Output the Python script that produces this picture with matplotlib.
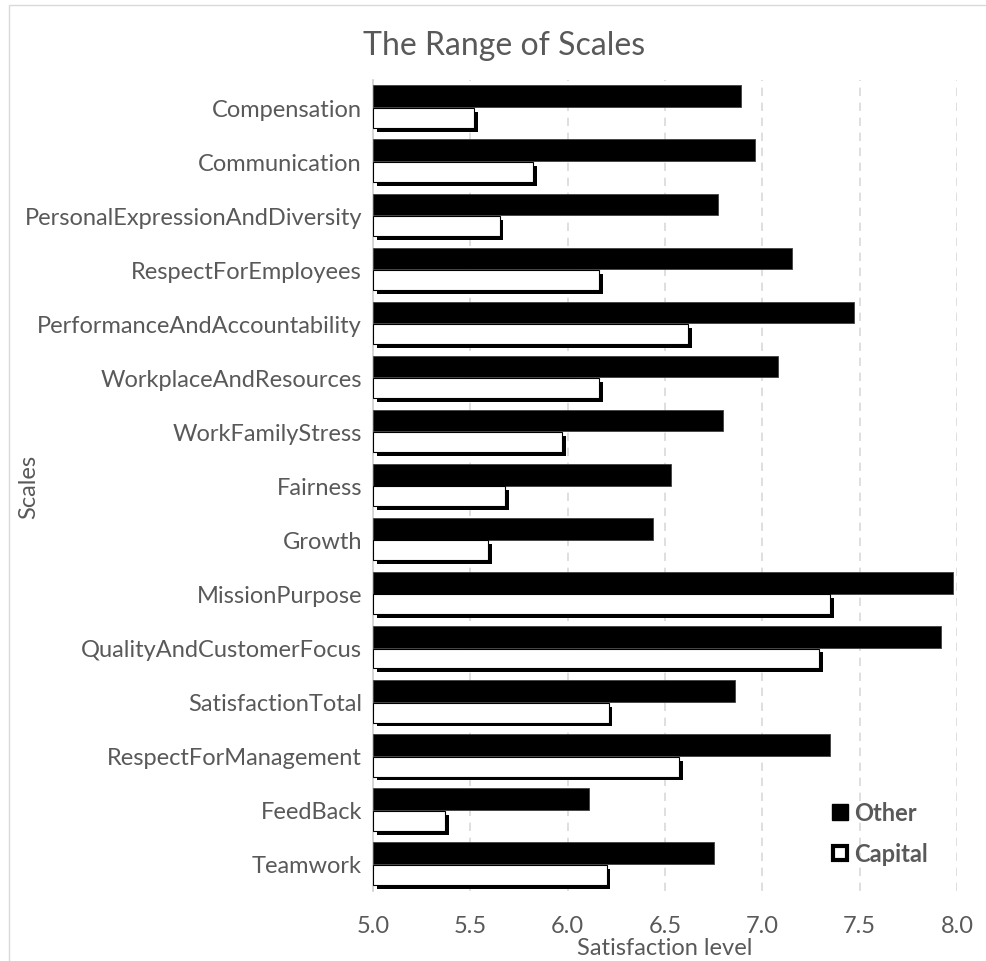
import numpy as np
import matplotlib
matplotlib.use("Agg")
import matplotlib.pyplot as plt
import matplotlib.patheffects as pe
from matplotlib.lines import Line2D
from matplotlib.patches import Rectangle

plt.rcParams['font.family'] = ['Lato', 'DejaVu Sans']

scales = ['Compensation', 'Communication', 'PersonalExpressionAndDiversity',
          'RespectForEmployees', 'PerformanceAndAccountability',
          'WorkplaceAndResources', 'WorkFamilyStress', 'Fairness', 'Growth',
          'MissionPurpose', 'QualityAndCustomerFocus', 'SatisfactionTotal',
          'RespectForManagement', 'FeedBack', 'Teamwork']
other = [6.89, 6.96, 6.77, 7.15, 7.47, 7.08, 6.80, 6.53, 6.44,
         7.98, 7.92, 6.86, 7.35, 6.11, 6.75]
capital = [5.52, 5.82, 5.65, 6.16, 6.62, 6.16, 5.97, 5.68, 5.59,
           7.35, 7.29, 6.21, 6.57, 5.37, 6.20]
xticks = [5.0, 5.5, 6.0, 6.5, 7.0, 7.5, 8.0]

grey = '#595959'
base = 5.0
h = 0.4

fig = plt.figure(figsize=(9.87, 9.62), dpi=100)
# light chart frame like the spreadsheet chart area
fig.patches.append(Rectangle((9 / 987, -0.1), 1.2, 1 - 6 / 962 + 0.1,
                             transform=fig.transFigure, fill=False,
                             edgecolor='#d9d9d9', linewidth=1))
ax = fig.add_axes([373 / 987, 1 - 892 / 962, 584 / 987, 811 / 962])

y = np.arange(len(scales))
shadow = [pe.SimplePatchShadow(offset=(2.8, -2.8), shadow_rgbFace='black', alpha=1.0), pe.Normal()]

ax.barh(y - h / 2, np.array(other) - base, left=base, height=h,
        color='black', edgecolor='#404040', linewidth=0.6, zorder=3)
bars = ax.barh(y + h / 2, np.array(capital) - base, left=base, height=h * 0.92,
               color='white', edgecolor='black', linewidth=0.8, zorder=3)
for b in bars:
    b.set_path_effects(shadow)

ax.set_xlim(5.0, 8.0)
ax.set_ylim(len(scales) - 0.5, -0.5)
ax.set_yticks(y)
ax.set_yticklabels(scales)
ax.set_xticks(xticks)
ax.set_xticklabels([f'{v:.1f}' for v in xticks])
ax.tick_params(length=0, labelsize=17, colors=grey, pad=8)
ax.tick_params(axis='x', pad=17)

for s in ['top', 'right', 'bottom']:
    ax.spines[s].set_visible(False)
ax.spines['left'].set_color('#d0d0d0')
ax.spines['left'].set_linewidth(1.2)

ax.xaxis.grid(True, linestyle=(0, (5, 4)), color='#d9d9d9', linewidth=1.2, zorder=0)
ax.set_axisbelow(True)

ax.set_xlabel('Satisfaction level', fontsize=17, color=grey, labelpad=1)
fig.text(29 / 987, 1 - 487 / 962, 'Scales', rotation=90, fontsize=17,
         color=grey, ha='center', va='center')
fig.text(504 / 987, 1 - 46 / 962, 'The Range of Scales', fontsize=23,
         color=grey, ha='center', va='center')

handles = [Line2D([], [], marker='s', linestyle='none', markersize=11.5,
                  markerfacecolor='black', markeredgecolor='black'),
           Line2D([], [], marker='s', linestyle='none', markersize=10,
                  markerfacecolor='white', markeredgecolor='black', markeredgewidth=3)]
leg = ax.legend(handles, ['Other', 'Capital'], loc='center left',
                bbox_to_anchor=((832 - 373) / 584, 1 - (834 - 81) / 811),
                frameon=False, borderpad=0, borderaxespad=0,
                handlelength=0.7, handletextpad=0.25, labelspacing=0.78,
                prop={'size': 17, 'weight': 'bold'})
for t in leg.get_texts():
    t.set_color(grey)

fig.savefig('out.png', dpi=100)
